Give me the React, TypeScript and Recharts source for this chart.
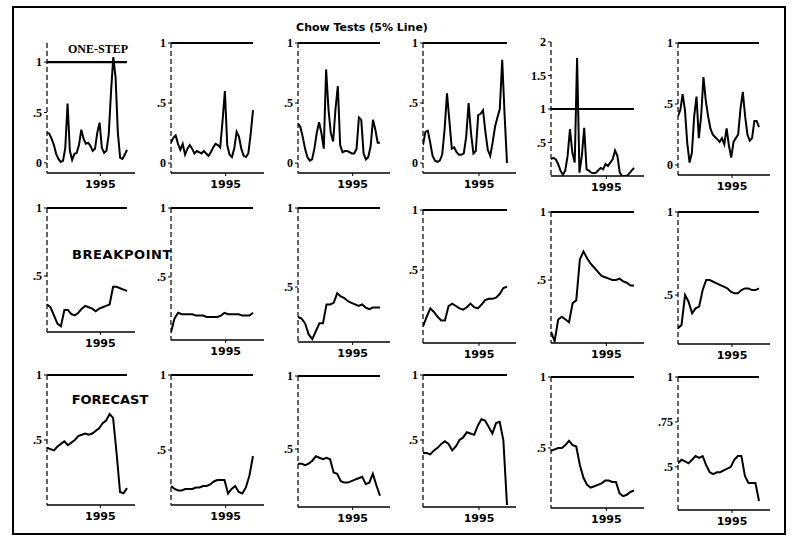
import React from 'react';
import { LineChart, Line, XAxis, YAxis, ReferenceLine } from 'recharts';

// Chow statistics scaled by their 5% critical value (so the line at 1 is the 5% line)
const oneStep1 = [0.30, 0.29, 0.24, 0.18, 0.09, 0.04, 0.01, 0.02, 0.15, 0.59, 0.12, 0.03, 0.09, 0.10, 0.18, 0.33, 0.24, 0.19, 0.20, 0.17, 0.12, 0.14, 0.30, 0.40, 0.15, 0.10, 0.12, 0.28, 0.70, 1.05, 0.85, 0.30, 0.05, 0.04, 0.08, 0.13];
const oneStep2 = [0.17, 0.21, 0.23, 0.16, 0.11, 0.16, 0.07, 0.12, 0.15, 0.12, 0.08, 0.10, 0.09, 0.08, 0.10, 0.08, 0.06, 0.09, 0.13, 0.16, 0.15, 0.13, 0.35, 0.60, 0.15, 0.07, 0.05, 0.12, 0.26, 0.22, 0.12, 0.06, 0.05, 0.08, 0.24, 0.44];
const oneStep3 = [0.33, 0.30, 0.22, 0.12, 0.05, 0.02, 0.03, 0.12, 0.25, 0.34, 0.25, 0.12, 0.78, 0.45, 0.25, 0.18, 0.45, 0.64, 0.15, 0.09, 0.10, 0.10, 0.09, 0.08, 0.08, 0.12, 0.38, 0.36, 0.08, 0.03, 0.05, 0.14, 0.36, 0.28, 0.17, 0.17];
const oneStep4 = [0.15, 0.26, 0.27, 0.17, 0.06, 0.02, 0.01, 0.02, 0.07, 0.28, 0.58, 0.35, 0.12, 0.13, 0.09, 0.07, 0.07, 0.08, 0.22, 0.50, 0.25, 0.08, 0.10, 0.40, 0.41, 0.44, 0.26, 0.11, 0.06, 0.17, 0.30, 0.38, 0.45, 0.86, 0.40, 0.0];
const oneStep5 = [0.25, 0.27, 0.25, 0.18, 0.08, 0.02, 0.08, 0.30, 0.70, 0.35, 0.20, 1.76, 0.05, 0.30, 0.72, 0.10, 0.08, 0.05, 0.04, 0.05, 0.09, 0.12, 0.10, 0.18, 0.15, 0.20, 0.25, 0.38, 0.30, 0.05, 0.0, 0.0, 0.0, 0.04, 0.08, 0.12];
const oneStep6 = [0.40, 0.45, 0.58, 0.45, 0.18, 0.02, 0.10, 0.40, 0.56, 0.22, 0.40, 0.72, 0.53, 0.40, 0.30, 0.25, 0.23, 0.21, 0.19, 0.22, 0.17, 0.30, 0.16, 0.06, 0.19, 0.22, 0.25, 0.46, 0.60, 0.40, 0.25, 0.20, 0.22, 0.36, 0.36, 0.31];

const breakpoint1 = [0.29, 0.27, 0.21, 0.15, 0.13, 0.25, 0.25, 0.22, 0.21, 0.23, 0.26, 0.28, 0.27, 0.26, 0.24, 0.26, 0.27, 0.28, 0.29, 0.42, 0.42, 0.41, 0.40, 0.39];
const breakpoint2 = [0.10, 0.20, 0.24, 0.23, 0.23, 0.23, 0.23, 0.22, 0.22, 0.22, 0.21, 0.21, 0.21, 0.21, 0.22, 0.24, 0.23, 0.23, 0.23, 0.23, 0.22, 0.22, 0.22, 0.24];
const breakpoint3 = [0.31, 0.30, 0.27, 0.20, 0.17, 0.22, 0.27, 0.27, 0.39, 0.39, 0.40, 0.46, 0.44, 0.43, 0.41, 0.40, 0.39, 0.38, 0.39, 0.37, 0.36, 0.37, 0.37, 0.37];
const breakpoint4 = [0.03, 0.11, 0.18, 0.15, 0.11, 0.08, 0.08, 0.20, 0.22, 0.20, 0.18, 0.17, 0.19, 0.22, 0.19, 0.18, 0.21, 0.25, 0.26, 0.26, 0.27, 0.30, 0.35, 0.36];
const breakpoint5 = [0.12, 0.05, 0.21, 0.23, 0.21, 0.19, 0.33, 0.35, 0.65, 0.71, 0.66, 0.62, 0.59, 0.56, 0.53, 0.52, 0.51, 0.50, 0.50, 0.51, 0.49, 0.48, 0.46, 0.46];
const breakpoint6 = [0.30, 0.32, 0.50, 0.46, 0.39, 0.42, 0.43, 0.53, 0.59, 0.59, 0.58, 0.57, 0.56, 0.55, 0.54, 0.52, 0.51, 0.51, 0.53, 0.54, 0.54, 0.53, 0.53, 0.54];

const forecast1 = [0.44, 0.43, 0.42, 0.45, 0.47, 0.49, 0.46, 0.48, 0.50, 0.53, 0.54, 0.55, 0.54, 0.55, 0.57, 0.59, 0.63, 0.65, 0.70, 0.67, 0.40, 0.10, 0.09, 0.13];
const forecast2 = [0.26, 0.24, 0.23, 0.23, 0.24, 0.24, 0.24, 0.25, 0.25, 0.26, 0.26, 0.27, 0.29, 0.30, 0.30, 0.30, 0.21, 0.24, 0.26, 0.22, 0.21, 0.25, 0.33, 0.46];
const forecast3 = [0.40, 0.40, 0.39, 0.40, 0.42, 0.45, 0.44, 0.43, 0.44, 0.43, 0.34, 0.33, 0.28, 0.27, 0.27, 0.28, 0.29, 0.30, 0.31, 0.26, 0.27, 0.33, 0.25, 0.18];
const forecast4 = [0.40, 0.40, 0.39, 0.42, 0.44, 0.47, 0.49, 0.47, 0.42, 0.45, 0.50, 0.52, 0.56, 0.55, 0.54, 0.61, 0.66, 0.65, 0.60, 0.55, 0.63, 0.64, 0.50, 0.0];
const forecast5 = [0.48, 0.49, 0.50, 0.50, 0.52, 0.55, 0.52, 0.51, 0.38, 0.29, 0.24, 0.22, 0.23, 0.24, 0.25, 0.27, 0.27, 0.26, 0.26, 0.18, 0.16, 0.17, 0.19, 0.20];
const forecast6 = [0.52, 0.54, 0.53, 0.52, 0.54, 0.56, 0.55, 0.56, 0.51, 0.47, 0.46, 0.47, 0.47, 0.48, 0.49, 0.50, 0.54, 0.56, 0.56, 0.45, 0.41, 0.41, 0.41, 0.31];

const START = 1988;
const END = 1998.5;
const CRITICAL = 1;
const yearTicks = [1995];

// horizontal layout per column: y-axis x, end of data, end of x-axis
const colAxisX = [47, 171, 298, 423, 551, 678];
const colDataEnd = [127, 253, 380, 507, 634, 759];
const colAxisEnd = [135, 264, 390, 516, 644, 770];

type Panel = {
  values: number[];
  col: number;
  top: number;
  bottom: number;
  domain: [number, number];
  ticks: number[];
};

const panels: Panel[] = [
  { values: oneStep1, col: 0, top: 43, bottom: 173, domain: [-0.1, 1.19], ticks: [0, 0.5, 1] },
  { values: oneStep2, col: 1, top: 43, bottom: 173, domain: [-0.083, 1], ticks: [0, 0.5, 1] },
  { values: oneStep3, col: 2, top: 43, bottom: 173, domain: [-0.083, 1], ticks: [0, 0.5, 1] },
  { values: oneStep4, col: 3, top: 43, bottom: 173, domain: [-0.083, 1], ticks: [0, 0.5, 1] },
  { values: oneStep5, col: 4, top: 42, bottom: 176, domain: [0, 2], ticks: [0.5, 1, 1.5, 2] },
  { values: oneStep6, col: 5, top: 43, bottom: 175, domain: [-0.082, 1], ticks: [0, 0.5, 1] },

  { values: breakpoint1, col: 0, top: 208, bottom: 332, domain: [0.088, 1], ticks: [0.5, 1] },
  { values: breakpoint2, col: 1, top: 208, bottom: 340, domain: [0.043, 1], ticks: [0.5, 1] },
  { values: breakpoint3, col: 2, top: 208, bottom: 342, domain: [0.152, 1], ticks: [0.5, 1] },
  { values: breakpoint4, col: 3, top: 210, bottom: 343, domain: [-0.108, 1], ticks: [0.5, 1] },
  { values: breakpoint5, col: 4, top: 212, bottom: 343, domain: [0.037, 1], ticks: [0.5, 1] },
  { values: breakpoint6, col: 5, top: 212, bottom: 344, domain: [0.205, 1], ticks: [0.5, 1] },

  { values: forecast1, col: 0, top: 375, bottom: 505, domain: [0, 1], ticks: [0.5, 1] },
  { values: forecast2, col: 1, top: 375, bottom: 505, domain: [0.133, 1], ticks: [0.5, 1] },
  { values: forecast3, col: 2, top: 376, bottom: 507, domain: [0.103, 1], ticks: [0.5, 1] },
  { values: forecast4, col: 3, top: 375, bottom: 507, domain: [-0.015, 1], ticks: [0.5, 1] },
  { values: forecast5, col: 4, top: 377, bottom: 508, domain: [0.077, 1], ticks: [0.5, 1] },
  { values: forecast6, col: 5, top: 377, bottom: 510, domain: [0.26, 1], ticks: [0.5, 0.75, 1] },
];

const YW = 28;
const MT = 6;
const MR = 4;
const XH = 26;

const fmtY = (v: number) => (v > 0 && v < 1 ? String(v).replace(/^0/, '') : String(v));

const tickFont = { fontFamily: 'Liberation Serif', fontWeight: 'bold' as const, fontSize: 12, fill: '#000' };
const yearFont = { fontFamily: 'DejaVu Sans', fontWeight: 'bold' as const, fontSize: 11, fill: '#000' };

const SmallPanel = ({ p }: { p: Panel }) => {
  const x0 = colAxisX[p.col];
  const x1 = colDataEnd[p.col];
  const x2 = colAxisEnd[p.col];
  const plotW = x2 - x0;
  const plotH = p.bottom - p.top;
  const xMax = START + ((END - START) * (x2 - x0)) / (x1 - x0);
  const n = p.values.length;
  const data = p.values.map((v, i) => ({ t: START + ((END - START) * i) / (n - 1), v }));

  return (
    <div style={{ position: 'absolute', left: x0 - YW, top: p.top - MT }}>
      <LineChart
        width={YW + plotW + MR}
        height={MT + plotH + XH}
        data={data}
        margin={{ top: MT, right: MR, bottom: 0, left: 0 }}
      >
        <XAxis
          dataKey="t"
          type="number"
          domain={[START, xMax]}
          ticks={yearTicks}
          height={XH}
          axisLine={{ stroke: '#000', strokeWidth: 1.5 }}
          tickLine={{ stroke: '#000' }}
          tickSize={3}
          tickMargin={4}
          tick={yearFont}
          allowDataOverflow
        />
        <YAxis
          type="number"
          domain={p.domain}
          ticks={p.ticks}
          width={YW}
          axisLine={{ stroke: '#000', strokeWidth: 1.2, strokeDasharray: '5 3' }}
          tickLine={{ stroke: '#000' }}
          tickSize={3}
          tickMargin={2}
          tick={tickFont}
          tickFormatter={fmtY}
          allowDataOverflow
          interval={0}
        />
        <ReferenceLine
          segment={[{ x: START, y: CRITICAL }, { x: END, y: CRITICAL }]}
          stroke="#000"
          strokeWidth={2.2}
        />
        <Line
          dataKey="v"
          type="linear"
          dot={false}
          stroke="#000"
          strokeWidth={2}
          isAnimationActive={false}
        />
      </LineChart>
    </div>
  );
};

const labelStyle: React.CSSProperties = {
  position: 'absolute',
  fontWeight: 'bold',
  color: '#000',
  whiteSpace: 'nowrap',
  transform: 'translate(-50%, -50%)',
  lineHeight: 1,
};

export default function App() {
  return (
    <div style={{ position: 'absolute', left: 0, top: 0, width: 797, height: 541, background: '#fff', overflow: 'hidden' }}>
      <div style={{ position: 'absolute', left: 12, top: 6, width: 770, height: 525, border: '2px solid #000' }} />
      {panels.map((p, i) => (
        <SmallPanel key={i} p={p} />
      ))}
      <div style={{ ...labelStyle, left: 362, top: 27, fontFamily: 'DejaVu Sans', fontSize: 11 }}>Chow Tests (5% Line)</div>
      <div style={{ ...labelStyle, left: 98, top: 49, fontFamily: 'Liberation Serif', fontSize: 12 }}>ONE-STEP</div>
      <div style={{ ...labelStyle, left: 122, top: 254, fontFamily: 'DejaVu Sans', fontSize: 13, letterSpacing: 0.6 }}>BREAKPOINT</div>
      <div style={{ ...labelStyle, left: 110, top: 399, fontFamily: 'DejaVu Sans', fontSize: 13 }}>FORECAST</div>
    </div>
  );
}
